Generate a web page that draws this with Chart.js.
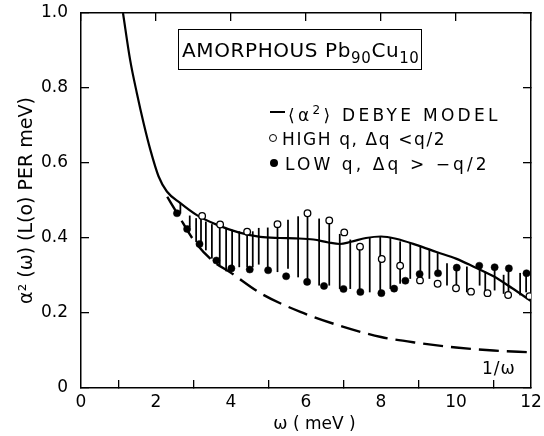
<!DOCTYPE html>
<html>
<head>
<meta charset="utf-8">
<script src="https://cdn.jsdelivr.net/npm/chart.js@4.4.0/dist/chart.umd.min.js"></script>
<style>
  body { margin: 0; background: #fff; }
  #wrap { position: relative; width: 544px; height: 436px; font-family: "DejaVu Sans", sans-serif; color: #000; }
  #chart { position: absolute; left: 0; top: 0; }
  .note { position: absolute; white-space: nowrap; line-height: 1; }
  #titleBox { left: 178px; top: 29px; width: 244px; height: 41px; box-sizing: border-box; border: 1.5px solid #000;
    font-size: 20px; letter-spacing: 0.6px; padding: 10px 0 0 3px; }
  #titleBox sub { font-size: 15px; vertical-align: -6px; }
  .leg { font-size: 17px; }
  .leg sup { font-size: 12px; vertical-align: 7px; }
  .mk { position: absolute; }
</style>
</head>
<body>
<div id="wrap">
  <canvas id="chart" width="544" height="436"></canvas>
  <div class="note" id="titleBox">AMORPHOUS Pb<sub>90</sub>Cu<sub>10</sub></div>

  <div class="mk" style="left:270px; top:111px; width:15px; height:2px; background:#000;"></div>
  <div class="note leg" style="left:288px; top:104px; letter-spacing:3.3px;">⟨α<sup>2</sup>⟩ DEBYE MODEL</div>

  <div class="mk" style="left:269px; top:134px; width:6px; height:6px; border:1.3px solid #000; border-radius:50%;"></div>
  <div class="note leg" style="left:282px; top:131px; letter-spacing:1.6px;">HIGH q, Δq &lt;q/2</div>

  <div class="mk" style="left:270px; top:159px; width:8px; height:8px; background:#000; border-radius:50%;"></div>
  <div class="note leg" style="left:285px; top:156px; letter-spacing:3.1px;">LOW q, Δq &gt; −q/2</div>

  <div class="note" style="left:482px; top:360px; font-size:17px; letter-spacing:1px;">1/ω</div>
</div>
<script>
// axis ticks
const xTickValues = [0, 2, 4, 6, 8, 10, 12];
const yTickValues = [0, 0.2, 0.4, 0.6, 0.8, 1.0];
const yTickLabels = ["0", "0.2", "0.4", "0.6", "0.8", "1.0"];

// <alpha^2> Debye model (solid)
const debyeX = [1.12, 1.31, 1.49, 1.67, 1.85, 2.07, 2.29, 2.65, 3.09, 3.63, 4.2, 4.78, 5.3, 5.71, 6.2, 6.6, 6.9, 7.2, 7.6, 8.0, 8.4, 8.96, 9.5, 10.0, 10.5, 11.0, 11.5, 12.0];
const debyeY = [1.0, 0.875, 0.786, 0.706, 0.635, 0.564, 0.524, 0.493, 0.461, 0.435, 0.415, 0.403, 0.40, 0.399, 0.396, 0.388, 0.384, 0.39, 0.40, 0.404, 0.398, 0.381, 0.362, 0.345, 0.322, 0.298, 0.266, 0.232];

// 1/omega (dashed)
const invX = [2.3, 2.6, 3.0, 3.5, 4.0, 4.8, 5.85, 7.0, 8.0, 9.0, 10.0, 11.0, 12.0];
const invY = [0.51, 0.46, 0.395, 0.34, 0.307, 0.252, 0.203, 0.163, 0.136, 0.12, 0.108, 0.1, 0.095];

// high q, dq < q/2 (open)
const highX = [3.23, 3.71, 4.43, 5.24, 6.04, 6.62, 7.02, 7.44, 8.02, 8.51, 9.04, 9.51, 10.0, 10.4, 10.84, 11.39, 11.96];
const highY = [0.459, 0.436, 0.417, 0.437, 0.466, 0.447, 0.415, 0.377, 0.344, 0.326, 0.287, 0.278, 0.266, 0.257, 0.253, 0.248, 0.245];

// low q, dq > -q/2 (filled)
const lowX = [2.56, 2.83, 3.16, 3.61, 4.01, 4.50, 4.99, 5.47, 6.03, 6.48, 7.0, 7.45, 8.01, 8.35, 8.65, 9.03, 9.52, 10.02, 10.62, 11.03, 11.41, 11.88];
const lowY = [0.466, 0.424, 0.384, 0.340, 0.319, 0.316, 0.314, 0.298, 0.283, 0.272, 0.264, 0.256, 0.253, 0.265, 0.286, 0.304, 0.306, 0.321, 0.326, 0.322, 0.319, 0.306];

// vertical hatch lines
const hatchX  = [2.65, 2.90, 3.07, 3.20, 3.33, 3.49, 3.70, 3.87, 4.03, 4.22, 4.43, 4.58, 4.74, 4.98, 5.24, 5.52, 5.79, 6.04, 6.35, 6.62, 6.90, 7.18, 7.43, 7.70, 7.98, 8.25, 8.51, 8.78, 9.05, 9.29, 9.51, 9.76, 10.01, 10.29, 10.63, 10.78, 11.03, 11.27, 11.40, 11.71, 11.87];
const hatchLo = [0.466, 0.430, 0.390, 0.381, 0.368, 0.346, 0.328, 0.312, 0.314, 0.323, 0.323, 0.323, 0.330, 0.314, 0.310, 0.319, 0.296, 0.283, 0.274, 0.274, 0.265, 0.265, 0.256, 0.256, 0.252, 0.265, 0.279, 0.292, 0.301, 0.292, 0.306, 0.274, 0.267, 0.256, 0.274, 0.252, 0.261, 0.252, 0.248, 0.248, 0.256];
const hatchHi = [0.492, 0.459, 0.452, 0.457, 0.443, 0.436, 0.435, 0.426, 0.421, 0.417, 0.419, 0.417, 0.426, 0.427, 0.436, 0.448, 0.457, 0.466, 0.451, 0.446, 0.410, 0.395, 0.377, 0.399, 0.403, 0.399, 0.390, 0.386, 0.377, 0.368, 0.359, 0.332, 0.323, 0.323, 0.326, 0.310, 0.323, 0.301, 0.319, 0.306, 0.306];

const pts = (xs, ys) => xs.map((x, i) => ({ x, y: ys[i] }));
const FONT = "'DejaVu Sans', sans-serif";

// inward ticks on all four sides, no grid inside
const gridOpts = () => ({ drawOnChartArea: false, drawTicks: true, tickLength: -8, color: "#000", lineWidth: 1.3 });
const borderOpts = () => ({ display: true, color: "#000", width: 1.5 });
const noPad = s => { s.paddingTop = 0; s.paddingBottom = 0; s.paddingLeft = 0; s.paddingRight = 0; };

new Chart(document.getElementById("chart"), {
  type: "scatter",
  data: {
    datasets: [
      { type: "scatter", data: pts(lowX, lowY), pointRadius: 3.6, pointBackgroundColor: "#000", pointBorderColor: "#000", pointBorderWidth: 0.5, order: 0 },
      { type: "scatter", data: pts(highX, highY), pointRadius: 3.3, pointBackgroundColor: "#fff", pointBorderColor: "#000", pointBorderWidth: 1.3, order: 1 },
      { type: "line", data: pts(debyeX, debyeY), borderColor: "#000", borderWidth: 2.2, pointRadius: 0, cubicInterpolationMode: "monotone", fill: false, order: 2 },
      { type: "line", data: pts(invX, invY), borderColor: "#000", borderWidth: 2.4, borderDash: [20, 8], pointRadius: 0, cubicInterpolationMode: "monotone", fill: false, order: 3 },
      { type: "bar", data: hatchX.map((x, i) => ({ x, y: [hatchLo[i], hatchHi[i]] })), backgroundColor: "#000", borderWidth: 0, barThickness: 1.1, order: 4 }
    ]
  },
  options: {
    responsive: false,
    animation: false,
    layout: { padding: { top: 13, right: 13, left: 0, bottom: 0 } },
    plugins: { legend: { display: false }, tooltip: { enabled: false } },
    scales: {
      x: {
        type: "linear", position: "bottom", min: 0, max: 12, offset: false,
        afterBuildTicks: s => { s.ticks = xTickValues.map(v => ({ value: v })); },
        afterFit: s => { s.height = 48; noPad(s); },
        ticks: { color: "#000", padding: 12, font: { family: FONT, size: 17 }, maxRotation: 0 },
        grid: gridOpts(), border: borderOpts(),
        title: { display: true, text: "\u2003ω ( meV )", color: "#000", font: { family: FONT, size: 17 }, padding: { top: 0, bottom: 1 } }
      },
      x2: {
        type: "linear", position: "top", min: 0, max: 12, offset: false, display: true,
        afterBuildTicks: s => { s.ticks = xTickValues.map(v => ({ value: v })); },
        afterFit: s => { s.height = 0; noPad(s); },
        ticks: { display: false },
        grid: gridOpts(), border: borderOpts()
      },
      y: {
        type: "linear", position: "left", min: 0, max: 1,
        afterBuildTicks: s => { s.ticks = yTickValues.map(v => ({ value: v })); },
        afterFit: s => { s.width = 81; noPad(s); },
        ticks: { color: "#000", padding: 21, font: { family: FONT, size: 17 },
          callback: (v) => yTickLabels[yTickValues.findIndex(t => Math.abs(t - v) < 1e-6)] },
        grid: gridOpts(), border: borderOpts(),
        title: { display: true, text: "α² (ω) (L(o) PER meV)", color: "#000", font: { family: FONT, size: 19 }, padding: { top: 16, bottom: 0 } }
      },
      y2: {
        type: "linear", position: "right", min: 0, max: 1, display: true,
        afterBuildTicks: s => { s.ticks = yTickValues.map(v => ({ value: v })); },
        afterFit: s => { s.width = 0; noPad(s); },
        ticks: { display: false },
        grid: gridOpts(), border: borderOpts()
      }
    }
  }
});
</script>
</body>
</html>
